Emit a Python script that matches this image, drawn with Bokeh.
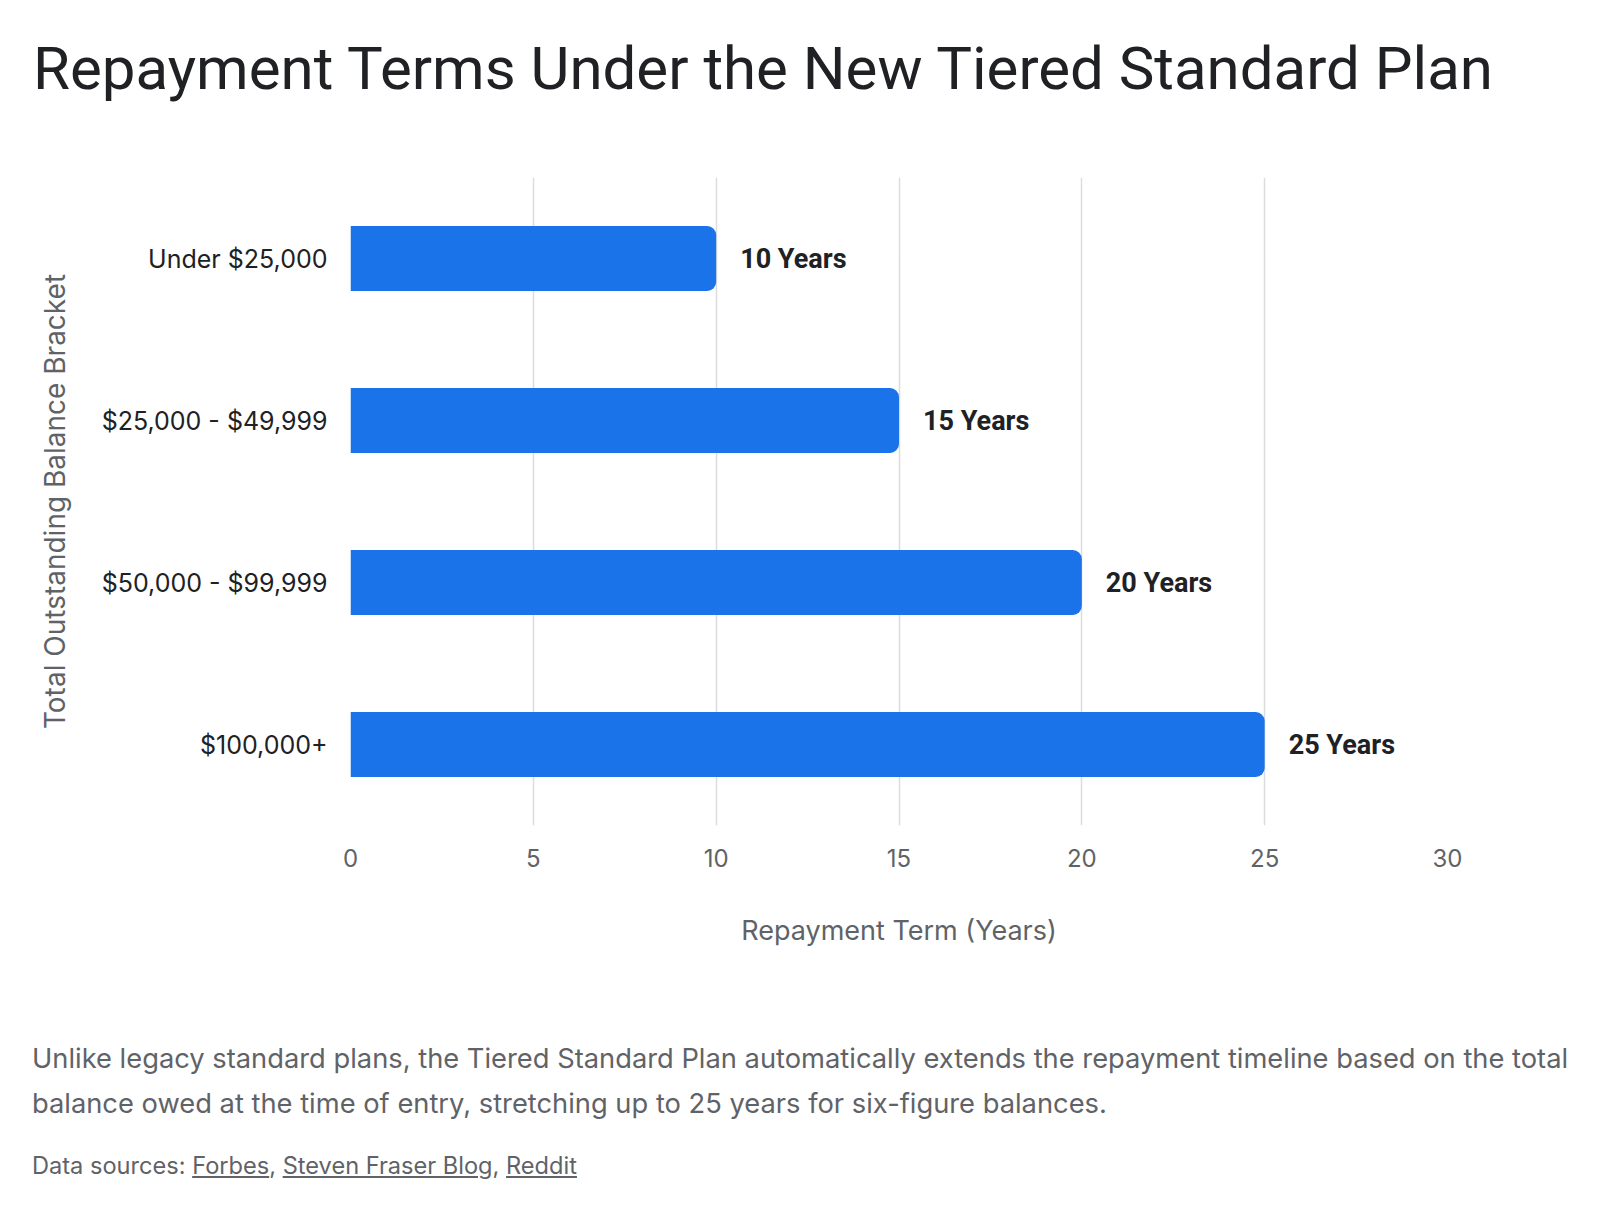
from bokeh.plotting import figure
from bokeh.models import Div, FactorRange, FixedTicker, ColumnDataSource
from bokeh.layouts import column
from bokeh.core.properties import value
from bokeh.embed import file_html
from bokeh.resources import INLINE

# ---- data ----
categories = ["Under $25,000", "$25,000 - $49,999", "$50,000 - $99,999", "$100,000+"]
years = [10, 15, 20, 25]
bar_labels = ["10 Years", "15 Years", "20 Years", "25 Years"]
x_ticks = [0, 5, 10, 15, 20, 25, 30]

title_text = "Repayment Terms Under the New Tiered Standard Plan"
x_title = "Repayment Term (Years)"
y_title = "Total Outstanding Balance Bracket"
note_line1 = "Unlike legacy standard plans, the Tiered Standard Plan automatically extends the repayment timeline based on the total"
note_line2 = "balance owed at the time of entry, stretching up to 25 years for six-figure balances."
sources = ["Forbes", "Steven Fraser Blog", "Reddit"]

TFONT = "Roboto"
FONT = "Inter"
DARK = "#202124"
GREY = "#5f6368"
BLUE = "#1a73e8"

title_div = Div(
    text=f'<div style="padding:31px 0 0 28px; font-family:{TFONT}; font-size:60px; '
         f'font-weight:400; line-height:1.1; color:{DARK}; white-space:nowrap;">{title_text}</div>',
    width=1600, height=130,
)

src = ColumnDataSource(dict(cat=categories, years=years, label=bar_labels))

p = figure(
    width=1600, height=840,
    y_range=FactorRange(factors=list(reversed(categories)), range_padding=0),
    x_range=(0, 30),
    output_backend="svg", toolbar_location=None,
    min_border_left=350, min_border_right=153,
    min_border_top=37, min_border_bottom=155,
)
p.outline_line_color = None
p.background_fill_color = "white"
p.border_fill_color = "white"

p.hbar(y="cat", right="years", left=0, height=0.4, source=src,
       fill_color=BLUE, line_color=None, border_radius=(0, 9, 9, 0))

p.text(x="years", y="cat", text="label", source=src, x_offset=24,
       text_baseline="middle", text_align="left",
       text_font=value(TFONT), text_font_size="27px", text_font_style="bold",
       text_color=DARK)

p.xaxis.ticker = FixedTicker(ticks=x_ticks)
p.xaxis.axis_line_color = None
p.xaxis.major_tick_line_color = None
p.xaxis.minor_tick_line_color = None
p.xaxis.major_label_text_font = FONT
p.xaxis.major_label_text_font_size = "24px"
p.xaxis.major_label_text_color = GREY
p.xaxis.major_label_standoff = 17
p.xaxis.axis_label = x_title
p.xaxis.axis_label_text_font = FONT
p.xaxis.axis_label_text_font_size = "27px"
p.xaxis.axis_label_text_font_style = "normal"
p.xaxis.axis_label_text_color = GREY
p.xaxis.axis_label_standoff = 44

p.yaxis.axis_line_color = None
p.yaxis.major_tick_line_color = None
p.yaxis.minor_tick_line_color = None
p.yaxis.major_label_text_font = FONT
p.yaxis.major_label_text_font_size = "25px"
p.yaxis.major_label_text_color = DARK
p.yaxis.major_label_standoff = 17
p.yaxis.axis_label = y_title
p.yaxis.axis_label_text_font = FONT
p.yaxis.axis_label_text_font_size = "28px"
p.yaxis.axis_label_text_font_style = "normal"
p.yaxis.axis_label_text_color = GREY
p.yaxis.axis_label_standoff = 27

p.ygrid.grid_line_color = None
p.xgrid.grid_line_color = "#dadce0"
p.xgrid.grid_line_width = 1.5

links = ", ".join(
    f'<span style="text-decoration:underline;">{s}</span>' for s in sources
)
footer_div = Div(
    text=(
        f'<div style="padding:51px 0 0 27px; font-family:{FONT}; color:{GREY};">'
        f'<div style="font-size:27.3px; line-height:45px; white-space:nowrap;">{note_line1}<br>{note_line2}</div>'
        f'<div style="font-size:23.6px; line-height:30px; margin-top:25px;">Data sources: {links}</div>'
        f'</div>'
    ),
    width=1600, height=244,
)

layout = column(title_div, p, footer_div, spacing=0)

open("out.html", "w").write(file_html(layout, INLINE))
